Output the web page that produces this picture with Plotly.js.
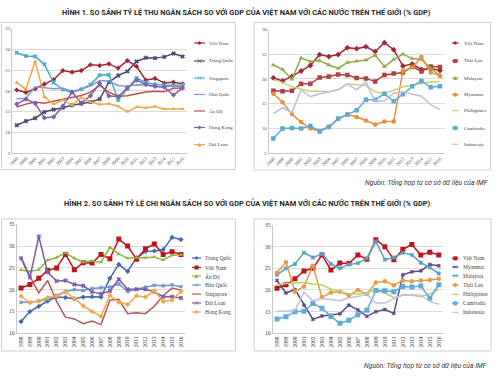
<!DOCTYPE html>
<html><head><meta charset="utf-8">
<script src="https://cdn.plot.ly/plotly-3.0.1.min.js"></script>
<style>html,body{margin:0;padding:0;background:#fff}#c{width:500px;height:379px}</style>
</head><body><div id="c"></div>
<script>
const years = [1998,1999,2000,2001,2002,2003,2004,2005,2006,2007,2008,2009,2010,2011,2012,2013,2014,2015,2016];
const yearLabels = years.map(String);

// Hình 1: thu ngân sách (% GDP)
const thuVietNam    = [20.2,19.6,20.5,21.6,22.7,24.9,24.5,24.9,26.3,26.1,26.5,25.5,27.3,25.9,22.6,23.0,21.9,22.1,21.7];
const thuTrungQuoc  = [11.7,12.7,13.4,14.9,15.5,15.9,16.5,16.9,17.3,18.0,22.1,23.7,24.7,27.1,28.0,27.9,28.2,29.0,28.3];
const thuSingapore  = [29.2,28.4,28.3,26.4,22.0,20.3,19.6,20.4,21.5,23.8,23.9,17.8,20.5,23.1,22.0,21.6,21.4,21.3,21.5];
const thuHanQuoc    = [18.1,18.2,21.0,20.7,20.5,20.6,19.9,20.4,21.2,22.5,22.3,21.3,21.1,21.5,21.4,21.0,21.0,21.2,21.0];
const thuAnDo       = [16.1,16.8,17.3,17.0,17.5,18.0,18.4,18.9,19.7,21.3,19.7,18.7,18.8,19.3,19.7,19.9,19.8,20.6,20.7];
const thuHongKong   = [16.8,18.0,17.0,13.5,13.7,16.3,19.7,17.1,18.8,21.8,18.8,18.6,20.7,22.6,21.5,21.1,20.9,19.0,20.7];
const thuDaiLoan    = [22.0,20.4,27.1,18.6,16.8,17.8,16.5,18.4,17.3,16.7,16.9,16.3,15.0,16.1,15.9,16.2,15.6,15.6,15.6];
const thuThaiLan    = [17.6,17.5,17.6,19.0,19.0,20.3,20.5,20.9,20.8,20.2,20.1,19.5,20.8,21.1,21.3,22.5,21.5,22.5,22.4];
const thuMalaysia   = [22.8,21.9,19.9,24.2,23.5,23.7,22.8,22.1,23.3,23.6,23.8,24.8,22.5,23.9,25.0,24.1,23.9,22.1,20.7];
const thuMyanmar    = [17.0,15.3,12.9,11.3,10.0,9.5,10.4,11.9,12.8,12.3,11.6,10.8,11.4,11.4,21.6,22.3,24.4,21.3,20.6];
const thuPhilippines= [19.8,19.3,18.4,18.0,17.5,17.5,17.4,17.8,19.0,18.8,18.7,17.4,17.0,17.7,18.4,18.7,19.0,19.4,19.5];
const thuCambodia   = [8.0,10.0,10.1,10.0,10.5,9.4,10.3,12.0,12.8,13.7,15.8,15.8,17.0,15.5,16.9,18.5,19.6,18.3,18.5];
const thuIndonesia  = [13.0,14.2,13.2,17.8,16.4,17.0,17.4,17.8,19.0,17.8,19.4,15.4,15.6,17.1,17.4,16.9,16.5,14.8,13.8];

// Hình 2: chi ngân sách (% GDP)
const chiVietNam    = [20.4,21.2,22.6,24.4,25.0,28.1,24.6,26.2,26.1,28.1,27.1,31.6,30.0,27.0,29.4,30.5,28.1,28.7,28.1];
const chiTrungQuoc  = [12.7,15.0,16.2,17.4,18.3,18.2,17.9,18.3,18.4,18.3,22.6,25.8,24.2,27.3,28.8,28.9,29.2,32.0,31.5];
const chiAnDo       = [24.5,24.2,24.6,26.8,27.4,28.5,27.2,26.3,26.6,26.3,29.7,28.2,27.2,27.4,27.3,27.5,26.8,27.9,28.0];
const chiHanQuoc    = [17.1,17.1,17.4,17.8,18.7,19.6,20.0,19.8,20.3,20.5,20.6,21.3,19.6,20.1,20.6,21.0,20.9,21.1,20.7];
const chiSingapore  = [27.5,23.0,19.3,22.1,17.3,13.7,13.3,12.2,12.8,12.0,17.6,17.8,14.5,14.7,14.5,16.2,18.6,20.4,19.9];
const chiDaiLoan    = [27.2,22.8,32.2,24.0,22.0,22.1,21.2,20.9,19.5,19.1,19.7,22.4,20.1,20.1,20.1,19.5,18.4,18.4,18.1];
const chiHongKong   = [18.5,17.0,17.4,18.2,18.5,19.5,18.0,16.3,15.0,13.9,18.7,17.1,16.6,18.6,18.3,19.8,17.3,17.6,19.6];
const chiMyanmar    = [22.2,19.3,20.1,16.5,13.2,14.0,14.2,14.5,16.5,15.4,13.9,15.0,15.5,14.6,23.5,24.2,24.4,25.9,25.6];
const chiMalaysia   = [23.5,25.0,26.0,28.6,27.5,28.3,26.0,25.0,25.9,26.2,27.3,31.2,27.0,27.5,28.6,28.1,26.3,25.2,23.8];
const chiThaiLan    = [24.0,26.4,19.6,20.8,25.6,18.3,19.4,19.6,18.8,20.0,19.1,21.7,22.0,21.1,22.2,22.0,22.2,22.3,22.6];
const chiPhilippines= [21.2,21.5,21.6,21.7,21.4,21.2,20.2,19.6,19.1,19.1,19.4,20.0,19.3,18.2,18.9,18.8,18.5,19.1,20.2];
const chiCambodia   = [13.3,13.8,15.0,15.1,16.9,15.8,13.9,12.3,13.0,14.3,15.3,19.9,19.8,19.6,20.8,20.7,20.9,18.1,21.2];
const chiIndonesia  = [15.1,15.1,15.3,19.5,17.5,18.0,17.8,17.5,18.2,18.5,19.0,17.0,17.0,18.0,18.8,18.9,18.8,17.3,16.7];

const title1 = "HÌNH 1. SO SÁNH TỶ LỆ THU NGÂN SÁCH SO VỚI GDP CỦA VIỆT NAM VỚI CÁC NƯỚC TRÊN THẾ GIỚI (% GDP)";
const title2 = "HÌNH 2. SO SÁNH TỶ LỆ CHI NGÂN SÁCH SO VỚI GDP CỦA VIỆT NAM VỚI CÁC NƯỚC TRÊN THẾ GIỚI (% GDP)";
const sourceText = "Nguồn: Tổng hợp từ cơ sở dữ liệu của IMF";

// ---------- styling / layout helpers ----------
const W = 500, H = 379;
const fx = p => p / W, fy = p => 1 - p / H;

const panels = [
  { ax: '', xd: [12.1, 187.3], yd: [153, 28.7], yr: [5, 35], angle: -45, tfs: 4.8, lfs: 5,
    key: [194, 205, 207], ly: [43, 61, 78, 94.5, 111, 127.5, 144.5],
    series: [
      ['Việt Nam', thuVietNam, '#A32638', 'diamond', 4],
      ['Trung Quốc', thuTrungQuoc, '#4B4A6E', 'x', 3.5],
      ['Singapore', thuSingapore, '#4DAAC8', 'x', 3.5],
      ['Hàn Quốc', thuHanQuoc, '#8197D4', null, 0],
      ['Ấn Độ', thuAnDo, '#C0504D', null, 0],
      ['Hong Kong', thuHongKong, '#7D5FA6', 'diamond', 4],
      ['Đài Loan', thuDaiLoan, '#F0A64B', 'triangle-up', 4]
    ]},
  { ax: '2', xd: [268.7, 444.6], yd: [153.3, 29.3], yr: [5, 30], angle: -45, tfs: 4.8, lfs: 5,
    key: [452, 458.5, 461.5], ly: [43, 61, 78, 94.7, 110.7, 128, 144.3],
    series: [
      ['Việt Nam', thuVietNam, '#A32638', 'diamond', 4.5],
      ['Thái Lan', thuThaiLan, '#B0403F', 'square', 4.5],
      ['Malaysia', thuMalaysia, '#92AA49', 'triangle-up', 4.5],
      ['Myanmar', thuMyanmar, '#E3913C', 'circle', 4.5],
      ['Philippines', thuPhilippines, '#C6D475', null, 0],
      ['Cambodia', thuCambodia, '#5FA9D2', 'square', 4.5],
      ['Indonesia', thuIndonesia, '#BFBDDD', null, 0]
    ]},
  { ax: '3', xd: [16.6, 185.4], yd: [333.3, 224.3], yr: [10, 35], angle: -90, tfs: 5.5, lfs: 5.5,
    key: [192, 201, 203], ly: [258, 267.5, 276, 285, 294, 303, 312],
    series: [
      ['Trung Quốc', chiTrungQuoc, '#4666A8', 'diamond', 4],
      ['Việt Nam', chiVietNam, '#C0141C', 'square', 5],
      ['Ấn Độ', chiAnDo, '#8DB43F', 'triangle-up', 4],
      ['Hàn Quốc', chiHanQuoc, '#7195CC', 'x', 3],
      ['Singapore', chiSingapore, '#B05A55', null, 0],
      ['Đài Loan', chiDaiLoan, '#7D5EA5', 'x', 3.5],
      ['Hong Kong', chiHongKong, '#F0A848', 'diamond', 4]
    ]},
  { ax: '4', xd: [272.5, 443.3], yd: [333.3, 225], yr: [10, 35], angle: -90, tfs: 5.5, lfs: 5.5,
    key: [452, 458.5, 460.5], ly: [258.3, 267, 275.7, 285, 294.3, 303.3, 312.3],
    series: [
      ['Việt Nam', chiVietNam, '#C0141C', 'square', 5],
      ['Myanmar', chiMyanmar, '#5A4C80', 'x', 3],
      ['Malaysia', chiMalaysia, '#5C9FC0', 'x', 3.5],
      ['Thái Lan', chiThaiLan, '#E59A45', 'circle', 4.5],
      ['Philippines', chiPhilippines, '#B9CF63', null, 0],
      ['Cambodia', chiCambodia, '#5DAADB', 'square', 5],
      ['Indonesia', chiIndonesia, '#C2C1E2', null, 0]
    ]}
];

const traces = [];
const layout = {
  width: W, height: H, autosize: false,
  margin: {l: 0, r: 0, t: 0, b: 0, pad: 0},
  paper_bgcolor: '#ffffff', plot_bgcolor: '#ffffff',
  showlegend: false,
  shapes: [], annotations: []
};

const frames = [[1.5, 22.5, 235.5, 169.5], [254, 22.5, 490.5, 170], [1.5, 219, 235.5, 351], [254, 219, 491, 351]];
frames.forEach(f => layout.shapes.push({type: 'rect', xref: 'paper', yref: 'paper', layer: 'below',
  x0: fx(f[0]), x1: fx(f[2]), y0: fy(f[3]), y1: fy(f[1]), line: {color: '#D0D0D0', width: 1}}));

function keyShape(cx, cy, color, sym, s) {
  const out = [];
  const X = v => fx(v), Y = v => fy(v);
  if (!sym) return out;
  const r = s / 2;
  if (sym === 'square') out.push({type: 'rect', x0: X(cx - r), x1: X(cx + r), y0: Y(cy + r), y1: Y(cy - r), fillcolor: color, line: {width: 0}});
  else if (sym === 'circle') out.push({type: 'circle', x0: X(cx - r), x1: X(cx + r), y0: Y(cy + r), y1: Y(cy - r), fillcolor: color, line: {width: 0}});
  else if (sym === 'diamond') out.push({type: 'path', path: `M${X(cx - r)},${Y(cy)} L${X(cx)},${Y(cy - r)} L${X(cx + r)},${Y(cy)} L${X(cx)},${Y(cy + r)} Z`, fillcolor: color, line: {width: 0}});
  else if (sym === 'triangle-up') out.push({type: 'path', path: `M${X(cx - r)},${Y(cy + r)} L${X(cx)},${Y(cy - r)} L${X(cx + r)},${Y(cy + r)} Z`, fillcolor: color, line: {width: 0}});
  else if (sym === 'x') out.push({type: 'path', path: `M${X(cx - r)},${Y(cy - r)} L${X(cx + r)},${Y(cy + r)} M${X(cx - r)},${Y(cy + r)} L${X(cx + r)},${Y(cy - r)}`, line: {color: color, width: 0.8}});
  return out.map(o => Object.assign({xref: 'paper', yref: 'paper'}, o));
}

panels.forEach(p => {
  const xa = 'xaxis' + p.ax, ya = 'yaxis' + p.ax;
  const xr = 'x' + p.ax, yr = 'y' + p.ax;
  layout[xa] = {
    domain: [fx(p.xd[0]), fx(p.xd[1])], anchor: yr, range: [1997.5, 2016.5],
    tickmode: 'array', tickvals: years, ticktext: yearLabels, tickangle: p.angle,
    showgrid: false, zeroline: false, showline: true, linecolor: '#C8C8C8', linewidth: 1,
    ticks: '', tickfont: {family: 'Liberation Serif', size: p.tfs, color: '#404040'}, fixedrange: true
  };
  layout[ya] = {
    domain: [fy(p.yd[0]), fy(p.yd[1])], anchor: xr, range: p.yr, dtick: 5, tick0: 0,
    showgrid: true, gridcolor: '#DCDCDC', gridwidth: 1, zeroline: false,
    showline: true, linecolor: '#C8C8C8', linewidth: 1, ticks: '',
    tickfont: {family: 'Liberation Serif', size: p.tfs, color: '#404040'}, fixedrange: true
  };
  p.series.forEach((s, i) => {
    const [name, vals, color, sym, size] = s;
    const tr = {
      type: 'scatter', x: years, y: vals, name: name, xaxis: xr, yaxis: yr,
      mode: sym ? 'lines+markers' : 'lines',
      line: {color: color, width: 1.5},
      hoverinfo: 'skip'
    };
    if (sym) tr.marker = {symbol: sym, size: size, color: color, line: {color: color, width: sym === 'x' ? 0.6 : 0}};
    traces.push(tr);
    const ly = p.ly[i];
    layout.shapes.push({type: 'line', xref: 'paper', yref: 'paper', x0: fx(p.key[0]), x1: fx(p.key[1]), y0: fy(ly), y1: fy(ly), line: {color: color, width: 1.2}});
    keyShape((p.key[0] + p.key[1]) / 2, ly, color, sym, Math.min(size, 4)).forEach(k => layout.shapes.push(k));
    layout.annotations.push({xref: 'paper', yref: 'paper', x: fx(p.key[2]), y: fy(ly), xanchor: 'left', yanchor: 'middle',
      text: name, showarrow: false, font: {family: 'Liberation Serif', size: p.lfs, color: '#404040'}});
  });
});

layout.annotations.push({xref: 'paper', yref: 'paper', x: fx(246), y: fy(12.3), xanchor: 'center', yanchor: 'middle',
  text: '<b>' + title1 + '</b>', showarrow: false, font: {family: 'Roboto', size: 7.4, color: '#262626'}});
layout.annotations.push({xref: 'paper', yref: 'paper', x: fx(247), y: fy(203.3), xanchor: 'center', yanchor: 'middle',
  text: '<b>' + title2 + '</b>', showarrow: false, font: {family: 'Roboto', size: 7.4, color: '#262626'}});
layout.annotations.push({xref: 'paper', yref: 'paper', x: fx(490), y: fy(182), xanchor: 'right', yanchor: 'middle',
  text: '<i>' + sourceText + '</i>', showarrow: false, font: {family: 'Roboto', size: 6.8, color: '#333333'}});
layout.annotations.push({xref: 'paper', yref: 'paper', x: fx(489), y: fy(365.5), xanchor: 'right', yanchor: 'middle',
  text: '<i>' + sourceText + '</i>', showarrow: false, font: {family: 'Roboto', size: 6.8, color: '#333333'}});

Plotly.newPlot('c', traces, layout, {staticPlot: true, displayModeBar: false});
</script>
</body></html>
